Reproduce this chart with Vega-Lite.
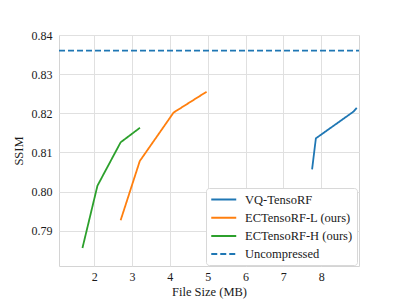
{
  "$schema": "https://vega.github.io/schema/vega-lite/v6.json",
  "width": 300,
  "height": 231,
  "autosize": "none",
  "padding": {"left": 59, "top": 35, "right": 40, "bottom": 33},
  "background": "white",
  "config": {
    "font": "'Liberation Serif', 'Times New Roman', 'DejaVu Serif', serif",
    "view": {"stroke": "#d4d4d4", "strokeWidth": 1},
    "axis": {
      "domain": false,
      "ticks": false,
      "grid": true,
      "gridColor": "#e0e0e0",
      "gridWidth": 1,
      "labelFont": "'Liberation Serif', 'Times New Roman', 'DejaVu Serif', serif",
      "labelFontSize": 12,
      "labelColor": "#1a1a1a",
      "titleFont": "'Liberation Serif', 'Times New Roman', 'DejaVu Serif', serif",
      "titleFontSize": 12.5,
      "titleFontWeight": "normal",
      "titleColor": "#1a1a1a"
    },
    "legend": {
      "labelFont": "'Liberation Serif', 'Times New Roman', 'DejaVu Serif', serif"
    }
  },
  "data": {
    "values": [
      {"series": "VQ-TensoRF", "x": 7.76, "y": 0.8057},
      {"series": "VQ-TensoRF", "x": 7.86, "y": 0.8136},
      {"series": "VQ-TensoRF", "x": 8.85, "y": 0.8204},
      {"series": "VQ-TensoRF", "x": 8.94, "y": 0.8214},
      {"series": "ECTensoRF-L (ours)", "x": 2.70, "y": 0.7927},
      {"series": "ECTensoRF-L (ours)", "x": 3.205, "y": 0.8078},
      {"series": "ECTensoRF-L (ours)", "x": 4.10, "y": 0.8202},
      {"series": "ECTensoRF-L (ours)", "x": 4.97, "y": 0.8255},
      {"series": "ECTensoRF-H (ours)", "x": 1.69, "y": 0.7856},
      {"series": "ECTensoRF-H (ours)", "x": 2.086, "y": 0.8015},
      {"series": "ECTensoRF-H (ours)", "x": 2.70, "y": 0.8126},
      {"series": "ECTensoRF-H (ours)", "x": 3.21, "y": 0.8163},
      {"series": "Uncompressed", "x": 1.07, "y": 0.836},
      {"series": "Uncompressed", "x": 9.0, "y": 0.836}
    ]
  },
  "mark": {"type": "line", "strokeWidth": 1.8, "clip": true},
  "encoding": {
    "x": {
      "field": "x",
      "type": "quantitative",
      "title": "File Size (MB)",
      "scale": {"domain": [1.07, 9.0], "nice": false, "zero": false},
      "axis": {"values": [2, 3, 4, 5, 6, 7, 8], "labelPadding": 5, "titlePadding": 3}
    },
    "y": {
      "field": "y",
      "type": "quantitative",
      "title": "SSIM",
      "scale": {"domain": [0.781, 0.84], "nice": false, "zero": false},
      "axis": {"values": [0.79, 0.80, 0.81, 0.82, 0.83, 0.84], "format": ".2f", "labelPadding": 7, "titlePadding": 6}
    },
    "color": {
      "field": "series",
      "type": "nominal",
      "title": null,
      "scale": {
        "domain": ["VQ-TensoRF", "ECTensoRF-L (ours)", "ECTensoRF-H (ours)", "Uncompressed"],
        "range": ["#1f77b4", "#ff7f0e", "#2ca02c", "#1f77b4"]
      },
      "legend": {
        "orient": "none",
        "legendX": 147,
        "legendY": 153,
        "symbolType": "M-1,0H3",
        "symbolSize": 156,
        "symbolStrokeWidth": 2,
        "labelOffset": 20,
        "labelFontSize": 12.5,
        "labelColor": "#1a1a1a",
        "labelLimit": 200,
        "rowPadding": 4.2,
        "padding": 4,
        "strokeColor": "#d8d8d8",
        "fillColor": "white",
        "cornerRadius": 3
      }
    },
    "strokeDash": {
      "field": "series",
      "type": "nominal",
      "title": null,
      "scale": {
        "domain": ["VQ-TensoRF", "ECTensoRF-L (ours)", "ECTensoRF-H (ours)", "Uncompressed"],
        "range": [[1, 0], [1, 0], [1, 0], [6, 3]]
      }
    }
  }
}
